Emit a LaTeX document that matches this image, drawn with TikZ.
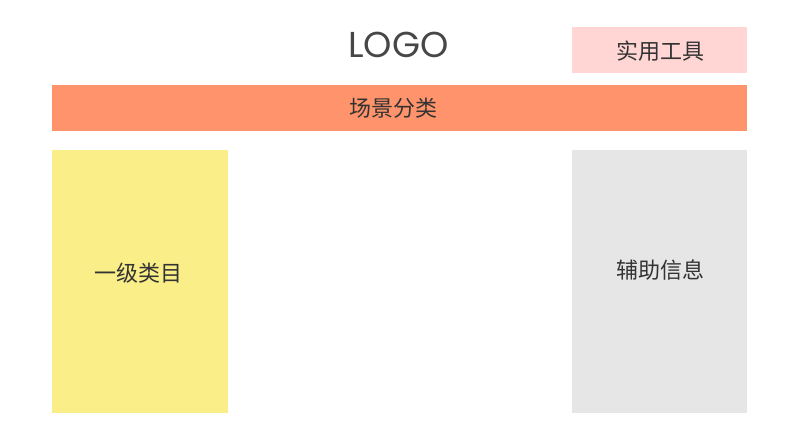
\documentclass[tikz,border=0pt]{standalone}
\usepackage{fontspec}
\newfontfamily\cjkfont{Noto Sans CJK SC}
\newfontfamily\logofont{Poppins}
\definecolor{toolpink}{HTML}{FFD6D4}
\definecolor{sceneorange}{HTML}{FF936B}
\definecolor{catyellow}{HTML}{F9EE87}
\definecolor{auxgray}{HTML}{E6E6E6}
\definecolor{labelgray}{HTML}{333333}
\tikzset{
  label text/.style={text=labelgray,font=\cjkfont\fontsize{22}{22}\selectfont,inner sep=0pt},
  region/.style={draw=none}
}
\begin{document}
\begin{tikzpicture}[x=1pt,y=1pt]
  \useasboundingbox[fill=white] (0,0) rectangle (800,436);
  \node[text=labelgray!90,font=\logofont\fontsize{36}{36}\selectfont,inner sep=0pt,anchor=base] (logo) at (398.5,378) {LOGO};
  % Regions
  \draw[region,fill=toolpink] (572,363) rectangle (747,409);
  \node[label text] (tools) at (660,385) {实用工具};
  \draw[region,fill=sceneorange] (52,305) rectangle (747,351);
  \node[label text] (scene) at (393,328) {场景分类};
  \draw[region,fill=catyellow] (52,23) rectangle (228,286);
  \node[label text] (level) at (138,163) {一级类目};
  \draw[region,fill=auxgray] (572,23) rectangle (747,286);
  \node[label text] (aux) at (660,166) {辅助信息};
\end{tikzpicture}
\end{document}
